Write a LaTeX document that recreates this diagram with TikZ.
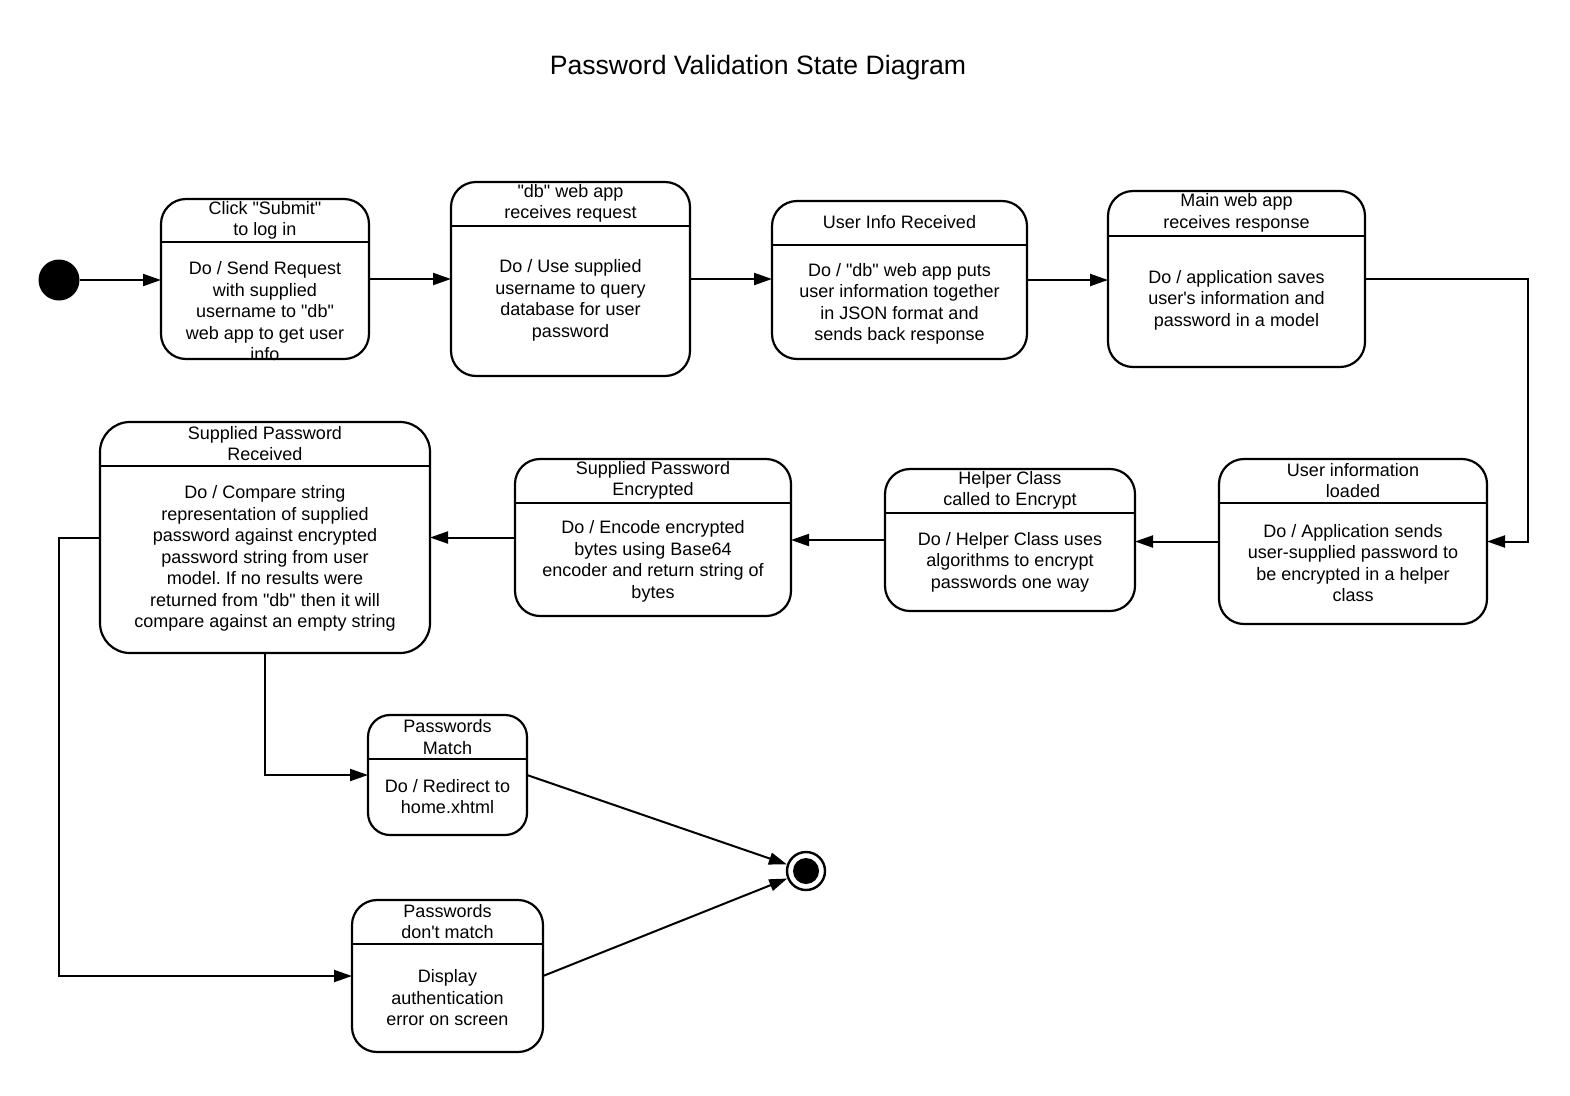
\documentclass[tikz,border=0pt]{standalone}
\usepackage{fontspec}
\setmainfont{Liberation Sans}[Ligatures=TeXOff]
\usetikzlibrary{arrows.meta}
\frenchspacing
\begin{document}
\frenchspacing
\begin{tikzpicture}[x=1pt,y=-1pt,
  box/.style={draw, line width=2.2pt, rounded corners=25pt, outer sep=0pt, inner sep=0pt},
  div/.style={line width=2.2pt},
  txt/.style={align=center, inner sep=0pt, font=\fontsize{18pt}{21.5pt}\selectfont},
  arr/.style={line width=2pt, -{Triangle[length=18pt,width=12pt]}}]
\useasboundingbox (0,0) rectangle (1570,1095);
\fill[white] (0,0) rectangle (1570,1095);

\node[font=\fontsize{26.6pt}{30pt}\selectfont, inner sep=0pt] (title) at (758,68) {Password Validation State Diagram};

% initial and final states
\node[circle, fill, minimum size=41pt, inner sep=0pt] (init) at (59,280) {};
\node[circle, draw, line width=2.4pt, minimum size=38pt, inner sep=0pt] (fin) at (806,871) {};
\fill (fin.center) circle (13pt);

% b1
\node[box, minimum width=208pt, minimum height=160pt] (b1) at (265,279) {};
\draw[div] (b1.west |- 0,242) -- (b1.east |- 0,242);
\node[txt] (b1h) at (265,220.5) {Click "Submit"\\to log in};
\node[txt] (b1b) at (265,311.5) {Do / Send Request\\with supplied\\username to "db"\\web app to get user\\info};

% b2
\node[box, minimum width=239pt, minimum height=194pt] (b2) at (570.5,279) {};
\draw[div] (b2.west |- 0,226) -- (b2.east |- 0,226);
\node[txt] (b2h) at (570.5,203.5) {"db" web app\\receives request};
\node[txt] (b2b) at (570.5,300.5) {Do / Use supplied\\username to query\\database for user\\password};

% b3
\node[box, minimum width=255pt, minimum height=158pt] (b3) at (899.5,280) {};
\draw[div] (b3.west |- 0,245) -- (b3.east |- 0,245);
\node[txt] (b3h) at (899.5,222) {User Info Received};
\node[txt] (b3b) at (899.5,304) {Do / "db" web app puts\\user information together\\in JSON format and\\sends back response};

% b4
\node[box, minimum width=257pt, minimum height=176pt] (b4) at (1236.5,279) {};
\draw[div] (b4.west |- 0,236) -- (b4.east |- 0,236);
\node[txt] (b4h) at (1236.5,213) {Main web app\\receives response};
\node[txt] (b4b) at (1236.5,300) {Do / application saves\\user's information and\\password in a model};

% b5
\node[box, minimum width=268pt, minimum height=165pt] (b5) at (1353,541.5) {};
\draw[div] (b5.west |- 0,503) -- (b5.east |- 0,503);
\node[txt] (b5h) at (1353,480.5) {User information\\loaded};
\node[txt] (b5b) at (1353,563) {Do / Application sends\\user-supplied password to\\be encrypted in a helper\\class};

% b6
\node[box, minimum width=250pt, minimum height=142pt] (b6) at (1010,540) {};
\draw[div] (b6.west |- 0,513) -- (b6.east |- 0,513);
\node[txt] (b6h) at (1010,490.5) {Helper Class\\called to Encrypt};
\node[txt] (b6b) at (1010,562) {Do / Helper Class uses\\algorithms to encrypt\\passwords one way};

% b7
\node[box, minimum width=276pt, minimum height=157pt] (b7) at (653,537.5) {};
\draw[div] (b7.west |- 0,503) -- (b7.east |- 0,503);
\node[txt] (b7h) at (653,480.5) {Supplied Password\\Encrypted};
\node[txt] (b7b) at (653,561.5) {Do / Encode encrypted\\bytes using Base64\\encoder and return string of\\bytes};

% b8
\node[box, rounded corners=30pt, minimum width=330pt, minimum height=231pt] (b8) at (265,537.5) {};
\draw[div] (b8.west |- 0,466) -- (b8.east |- 0,466);
\node[txt] (b8h) at (265,443.5) {Supplied Password\\Received};
\node[txt] (b8b) at (265,558.5) {Do / Compare string\\representation of supplied\\password against encrypted\\password string from user\\model. If no results were\\returned from "db" then it will\\compare against an empty string};

% b9
\node[box, rounded corners=22pt, minimum width=159pt, minimum height=120pt] (b9) at (447.5,775) {};
\draw[div] (b9.west |- 0,759) -- (b9.east |- 0,759);
\node[txt] (b9h) at (447.5,737) {Passwords\\Match};
\node[txt] (b9b) at (447.5,796.5) {Do / Redirect to\\home.xhtml};

% b10
\node[box, minimum width=191pt, minimum height=152pt] (b10) at (447.5,976) {};
\draw[div] (b10.west |- 0,944) -- (b10.east |- 0,944);
\node[txt] (b10h) at (447.5,921.5) {Passwords\\don't match};
\node[txt] (b10b) at (447.5,998) {Display\\authentication\\error on screen};

% connectors
\coordinate (cR) at (1528,0);
\coordinate (cL) at (59,0);
\draw[arr] (init) -- (init -| b1.west);
\draw[arr] (b1.east) -- (b1.east -| b2.west);
\draw[arr] (b2.east) -- (b2.east -| b3.west);
\draw[arr] (b3.east) -- (b3.east -| b4.west);
\draw[arr] (b4.east) -- (b4.east -| cR) |- (b5.east);
\draw[arr] (b5.west) -- (b5.west -| b6.east);
\draw[arr] (b6.west) -- (b6.west -| b7.east);
\draw[arr] (b7.west) -- (b7.west -| b8.east);
\draw[arr] (b8.south) |- (b9.west);
\draw[arr] (b8.west) -- (b8.west -| cL) |- (b10.west);
\draw[arr] (b9.east) -- (fin);
\draw[arr] (b10.east) -- (fin);
\end{tikzpicture}
\end{document}
